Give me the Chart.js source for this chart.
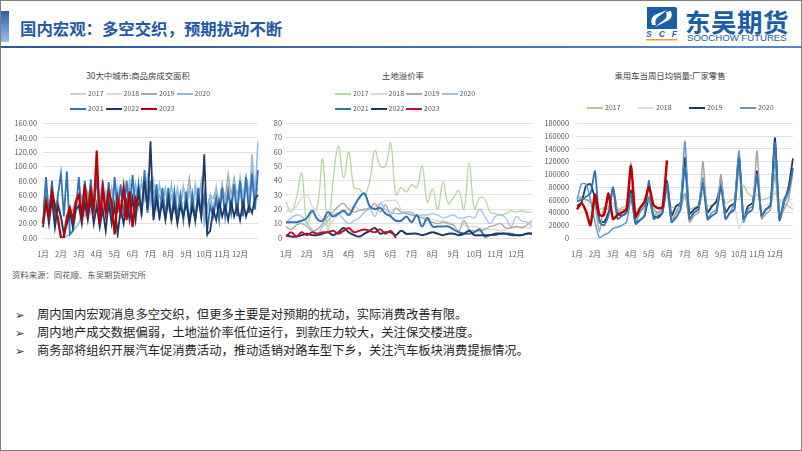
<!DOCTYPE html>
<html>
<head>
<meta charset="utf-8">
<script src="https://cdn.jsdelivr.net/npm/chart.js@4.4.0/dist/chart.umd.min.js"></script>
<style>
  body { margin: 0; background: #fff; }
  #slide { position: relative; width: 802px; height: 451px; overflow: hidden; background: #fff;
           font-family: 'Noto Sans CJK SC', 'Noto Sans', sans-serif; }
  #frame { position: absolute; left: 0; top: 0; width: 802px; height: 451px; box-sizing: border-box;
           border: 1px solid #7f7f7f; pointer-events: none; }
  .abs { position: absolute; }
  .ctitle { position: absolute; font-size: 8.4px; color: #404040; white-space: nowrap; transform: translateX(-50%); }
  .lg { position: absolute; height: 10px; font-size: 7px; color: #595959; white-space: nowrap; }
  .lg i { position: absolute; left: 0; top: 4px; width: 16px; height: 2px; }
  .lg span { position: absolute; left: 18px; top: -1px; }
  canvas { position: absolute; }
  .bul { position: absolute; left: 15px; font-size: 12.3px; color: #262626; white-space: nowrap; }
  .bul b { font-weight: bold; font-family: 'DejaVu Sans'; font-size: 11.5px; display: inline-block; width: 22px; color: #333; }
</style>
</head>
<body>
<div id="slide">
  <!-- header -->
  <div class="abs" style="left:1px;top:11px;width:8px;height:31px;background:linear-gradient(#2a5fae,#9cc0ea);"></div>
  <div class="abs" style="left:20px;top:16px;font-size:16.4px;font-weight:bold;color:#1f5aa6;white-space:nowrap;">国内宏观：多空交织，预期扰动不断</div>
  <svg class="abs" style="left:643px;top:5px" width="36" height="36" viewBox="0 0 36 36">
    <path d="M4 2 H32 Q34 2 34 4 V24 H4 Z" fill="#1a5ea8"/>
    <path d="M9 20 Q6 12 14 9 L24 5 Q18 10 15 12 Q11 15 13 20 Z" fill="#fff"/>
    <path d="M28 6 Q31 14 22 17 L12 22 Q18 17 21 15 Q25 12 23 7 Z" fill="#fff"/>
    <text x="3" y="32" font-family="Liberation Sans" font-weight="bold" font-style="italic" font-size="8.5" fill="#1a5ea8" textLength="31">SCF</text>
    <rect x="3" y="34" width="31" height="1.5" fill="#f0a020"/>
  </svg>
  <div class="abs" style="left:685px;top:2px;font-size:25.5px;font-weight:bold;color:#1a5ea8;white-space:nowrap;letter-spacing:0.5px;">东吴期货</div>
  <div class="abs" style="left:687px;top:32px;font-size:9.6px;color:#1a5ea8;white-space:nowrap;font-family:'Liberation Sans';">SOOCHOW FUTURES</div>
  <div class="abs" style="left:0;top:46px;width:802px;height:2px;background:linear-gradient(90deg,#2f5597,#5b87c8);"></div>

  <!-- chart titles -->
  <div class="ctitle" style="left:138px;top:69px;">30大中城市:商品房成交面积</div>
  <div class="ctitle" style="left:403px;top:69px;">土地溢价率</div>
  <div class="ctitle" style="left:670px;top:69px;">乘用车当周日均销量:厂家零售</div>

  <canvas id="c1" width="260" height="147" style="left:5px;top:113px;"></canvas>
  <canvas id="c2" width="270" height="147" style="left:268px;top:113px;"></canvas>
  <canvas id="c3" width="258" height="149" style="left:540px;top:111px;"></canvas>

  <div class="abs" style="left:12px;top:268px;font-size:8.4px;color:#595959;white-space:nowrap;">资料来源：同花顺、东吴期货研究所</div>

  <div class="bul" style="top:305px;"><b>➢</b>周内国内宏观消息多空交织，但更多主要是对预期的扰动，实际消费改善有限。</div>
  <div class="bul" style="top:323px;"><b>➢</b>周内地产成交数据偏弱，土地溢价率低位运行，到款压力较大，关注保交楼进度。</div>
  <div class="bul" style="top:341px;"><b>➢</b>商务部将组织开展汽车促消费活动，推动适销对路车型下乡，关注汽车板块消费提振情况。</div>

  <div id="frame"></div>
</div>

<script>
const months = ['1月','2月','3月','4月','5月','6月','7月','8月','9月','10月','11月','12月'];
const years = ['2017','2018','2019','2020','2021','2022','2023'];

// 30大中城市:商品房成交面积 (6 points per month)
const area2017 = [40,55,35,60,40,50, 20,10,25,40,35,50, 45,55,40,60,45,65, 50,60,45,65,50,55, 45,60,40,55,50,65, 50,60,45,55,50,70, 45,55,40,60,45,55, 40,55,45,60,40,50, 45,60,40,55,50,65, 25,35,50,45,55,40, 60,45,65,50,70,45, 60,50,70,45,75,50,55];
const area2018 = [35,50,30,55,35,45, 25,5,15,30,35,45, 40,50,35,55,40,60, 45,55,40,60,45,55, 40,55,45,60,40,60, 45,65,40,60,50,75, 40,55,45,50,40,55, 45,60,40,55,45,60, 50,70,45,60,50,70, 20,40,55,45,60,45, 65,50,80,55,75,50, 70,55,80,60,85,55,65];
const area2019 = [45,60,40,65,45,55, 30,10,20,35,40,55, 45,60,40,65,45,60, 50,65,45,60,50,70, 45,60,50,65,45,70, 55,70,50,75,55,85, 50,65,45,60,50,65, 45,60,50,65,45,70, 55,85,50,65,55,75, 30,45,60,55,70,50, 75,55,90,60,85,60, 80,60,85,65,95,60,70];
const area2020 = [40,75,35,70,30,20, 5,0,3,5,10,15, 20,35,30,45,35,55, 40,60,35,65,40,70, 45,70,40,75,45,80, 50,75,45,80,55,85, 50,80,45,75,50,70, 45,75,40,70,45,72, 45,70,40,75,50,80, 20,40,60,35,70,40, 75,40,70,45,80,45, 85,50,90,40,117,60,135];
const area2021 = [20,85,30,80,25,60, 90,30,93,5,10,40, 85,30,80,35,82,40, 85,30,80,35,78,25, 85,35,75,30,80,35, 88,40,75,30,95,35, 80,30,75,25,70,30, 70,25,65,30,60,25, 65,20,60,25,70,30, 60,10,45,30,55,25, 70,30,65,35,75,30, 80,30,85,35,90,40,95];
const area2022 = [15,50,20,55,15,45, 30,5,20,35,15,40, 45,20,50,25,55,20, 45,15,40,10,50,20, 45,5,40,20,50,25, 55,25,65,35,80,40, 135,25,55,30,50,25, 55,25,50,20,45,30, 50,20,45,25,55,30, 117,5,10,40,25,50, 30,45,25,50,30,45, 25,50,30,45,35,55,60];
const area2023 = [20,50,30,65,45,28, 0,1,30,42,25,50, 60,30,75,35,65,40, 122,20,70,35,65,50, 5,55,35,70,25,65, 15,55,45];

// 土地溢价率 (4 points per month)
const prem2017 = [25,18,28,45,10,18,22,55,5,40, 64,42,60,35,34,30,40,61,50,50, 66,30,35,32,37,35,50,25,34,20, 39,24,28,33,20,52,20,28,27,18, 17,16,17,19,18,19,18,18];
const prem2018 = [18,20,22,28,30,22,18,12,8,12, 16,18,20,22,20,19,20,22,24,26, 26,26,20,18,17,16,15,14,13,12, 12,11,10,10,9,8,8,7,7,6, 6,5,6,7,8,8,7,7];
const prem2019 = [8,6,9,10,8,5,6,10,15,18, 22,24,20,18,19,20,21,24,18,23, 16,21,18,17,16,15,14,12,11,10, 11,10,9,5,12,6,5,5,6,8, 9,10,7,7,8,7,9,12];
const prem2020 = [10,14,16,15,10,6,3,8,12,16, 17,13,10,12,14,18,20,15,24,20, 18,17,17,18,18,15,16,16,17,16, 14,15,16,14,14,15,14,20,15,10, 15,16,14,8,15,12,11,8];
const prem2021 = [11,11,11,12,14,19,13,12,18,15, 17,19,16,22,28,31,22,20,21,17, 15,12,12,15,11,16,8,14,8,8, 8,8,6,4,3,3,4,6,1,2, 2,3,3,3,2,2,3,3];
const prem2022 = [2,1,1,2,3,2,2,3,4,2, 4,7,4,2,1,3,5,7,3,4, 4,2,5,3,3,3,2,3,4,3, 2,3,3,2,3,5,2,2,2,2, 3,3,3,2,2,2,3,3];
const prem2023 = [1,4,1,4,2,4,3,4,4,5, 3,5,7,4,5,6,5,4,6,3, 5,0];

// 乘用车当周日均销量:厂家零售 (4 points per month)
const cars2017 = [62000,65000,60000,55000, 50000,45000,48000,50000, 55000,45000,48000,50000, 65000,45000,48000,50000, 60000,45000,48000,50000, 65000,48000,50000,52000, 70000,45000,48000,50000, 72000,50000,52000,55000, 75000,55000,58000,62000, 60000,83000,70000,65000, 68000,60000,62000,65000, 70000,60000,55000,50000,45000];
const cars2018 = [65000,60000,55000,50000, 45000,30000,35000,40000, 50000,40000,42000,45000, 60000,40000,42000,45000, 55000,40000,42000,45000, 60000,42000,45000,48000, 65000,40000,42000,45000, 70000,42000,45000,48000, 75000,45000,48000,50000, 15000,30000,45000,50000, 70000,50000,52000,55000, 75000,55000,58000,60000,50000];
const cars2019 = [50000,56000,82000,85000, 62000,28000,25000,40000, 80000,40000,35000,40000, 75000,25000,28000,35000, 65000,35000,32000,40000, 90000,35000,50000,55000, 126000,38000,45000,50000, 90000,40000,50000,58000, 85000,40000,50000,55000, 130000,30000,50000,55000, 105000,35000,45000,52000, 157000,28000,55000,80000,125000];
const cars2020 = [60000,85000,85000,60000, 25000,0,5000,8000, 15000,17000,20000,25000, 60000,25000,40000,50000, 60000,35000,40000,45000, 85000,25000,40000,55000, 152000,28000,40000,45000, 95000,32000,40000,45000, 95000,30000,40000,55000, 137000,25000,45000,50000, 95000,35000,45000,50000, 120000,30000,55000,70000,110000];
const cars2021 = [65000,62000,60000,58000, 50000,10000,48000,45000, 75000,42000,45000,45000, 118000,40000,45000,55000, 65000,45000,40000,45000, 75000,30000,38000,45000, 70000,25000,35000,40000, 120000,28000,35000,40000, 100000,30000,38000,45000, 110000,35000,40000,45000, 137000,30000,38000,45000, 100000,30000,45000,60000,105000];
const cars2022 = [58000,60000,65000,70000, 105000,25000,20000,35000, 78000,30000,35000,40000, 70000,22000,28000,35000, 90000,30000,35000,40000, 85000,25000,32000,45000, 110000,30000,40000,45000, 85000,30000,35000,40000, 80000,30000,40000,45000, 125000,30000,40000,45000, 100000,35000,45000,50000, 150000,30000,60000,75000,110000];
const cars2023 = [45000,55000,42000,20000,68000,36000,36000,70000,30000,36000,40000,45000,113000,33000,47000,57000,80000,52000,47000,48000,122000];

const FONT = "'Noto Sans CJK SC', 'Noto Sans', sans-serif";

// x 轴标签: 每月第一个点放月份
function monthLabels(n, perMonth) {
  const out = [];
  for (let i = 0; i < n; i++) {
    out.push(i % perMonth === 0 && i / perMonth < 12 ? months[i / perMonth] : '');
  }
  return out;
}

function makeChart(id, labels, series, colors, widths, tension, y, lay) {
  const datasets = series.map((d, i) => ({
    label: years[i],
    data: d,
    borderColor: colors[i],
    backgroundColor: colors[i],
    borderWidth: widths[i],
    pointRadius: 0,
    tension: tension,
    fill: false,
    order: 6 - i
  }));
  return new Chart(document.getElementById(id), {
    type: 'line',
    data: { labels: labels, datasets: datasets },
    options: {
      responsive: false,
      animation: false,
      layout: { padding: { top: lay.top, right: lay.right, left: 0, bottom: 0 } },
      plugins: { legend: { display: false }, tooltip: { enabled: false } },
      scales: {
        x: {
          offset: false,
          grid: { display: false },
          border: { display: false },
          ticks: { autoSkip: false, maxRotation: 0, padding: 4, color: '#595959', font: { family: FONT, size: 7.6 } },
          afterFit: s => { s.height = lay.xh; }
        },
        y: {
          min: 0, max: y.max,
          grid: { color: '#d9d9d9', lineWidth: 0.8, drawTicks: false },
          border: { display: false },
          ticks: { stepSize: y.step, padding: lay.ypad, color: '#595959', font: { family: FONT, size: 7.4 },
                   callback: y.fmt },
          afterFit: s => { s.width = lay.yw; }
        }
      }
    }
  });
}

// 图例: 按年份顺序, 逐行排列
function makeLegend(chart, x0, y0, itemW, perRow, count) {
  chart.data.datasets.slice(0, count).forEach((ds, i) => {
    const el = document.createElement('div');
    el.className = 'lg';
    el.style.left = (x0 + (i % perRow) * itemW) + 'px';
    el.style.top = (y0 + Math.floor(i / perRow) * 14.5) + 'px';
    el.innerHTML = '<i style="background:' + ds.borderColor + '"></i><span>' + ds.label + '</span>';
    document.getElementById('slide').appendChild(el);
  });
}

const ch1 = makeChart('c1', monthLabels(73, 6),
  [area2017, area2018, area2019, area2020, area2021, area2022, area2023],
  ['#c9d2bf', '#d9d9d9', '#a5a5a5', '#8fbbe3', '#2e75b6', '#1f3864', '#c00000'],
  [1.2, 1.2, 1.2, 1.5, 1.8, 1.8, 2.2],
  0,
  { max: 160, step: 20, fmt: v => v.toFixed(2) },
  { top: 10, right: 7, yw: 38, ypad: 6, xh: 22 });

const ch2 = makeChart('c2', monthLabels(48, 4),
  [prem2017, prem2018, prem2019, prem2020, prem2021, prem2022, prem2023],
  ['#b5d99c', '#d9d9d9', '#aea3a3', '#9dc3e6', '#2e75b6', '#1f3864', '#c8102e'],
  [1.3, 1.3, 1.3, 1.3, 2, 2, 2],
  0.4,
  { max: 80, step: 10, fmt: v => v },
  { top: 10, right: 6, yw: 18, ypad: 4, xh: 22 });

const ch3 = makeChart('c3', monthLabels(49, 4),
  [cars2017, cars2018, cars2019, cars2020, cars2021, cars2022, cars2023],
  ['#a9d18e', '#d6dce5', '#203864', '#5b9bd5', '#a5a5a5', '#2e75b6', '#c00000'],
  [1.2, 1.2, 1.8, 1.5, 1.5, 1.8, 2.5],
  0.2,
  { max: 180000, step: 20000, fmt: v => v },
  { top: 10.5, right: 5, yw: 37, ypad: 8, xh: 22 });

makeLegend(ch1, 70, 89, 35.5, 4, 7);
makeLegend(ch2, 335, 89, 35.5, 4, 7);
makeLegend(ch3, 587, 103, 51, 4, 4);
</script>
</body>
</html>
